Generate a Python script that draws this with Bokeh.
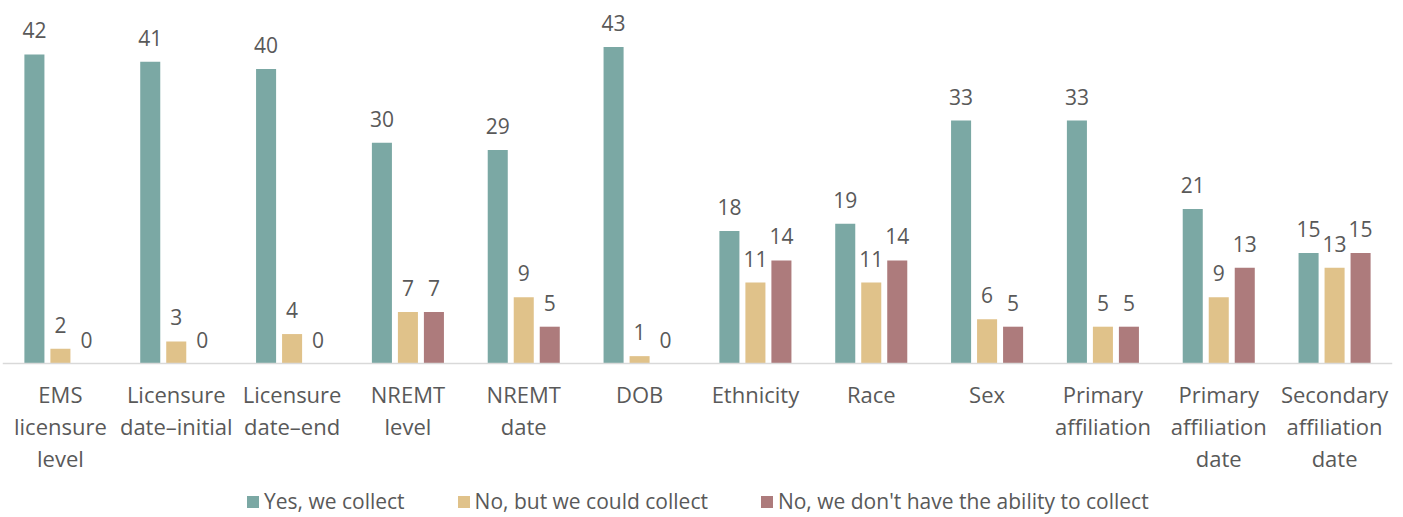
from bokeh.plotting import figure
from bokeh.models import ColumnDataSource, FactorRange, Range1d, Span, Legend, LegendItem
from bokeh.transform import dodge
from bokeh.core.properties import value
from bokeh.embed import file_html
from bokeh.resources import INLINE

categories = ["EMS\nlicensure\nlevel", "Licensure\ndate\u2013initial", "Licensure\ndate\u2013end",
              "NREMT\nlevel", "NREMT\ndate", "DOB", "Ethnicity", "Race", "Sex",
              "Primary\naffiliation", "Primary\naffiliation\ndate", "Secondary\naffiliation\ndate"]
yes_collect = [42, 41, 40, 30, 29, 43, 18, 19, 33, 33, 21, 15]
could_collect = [2, 3, 4, 7, 9, 1, 11, 11, 6, 5, 9, 13]
cannot_collect = [0, 0, 0, 7, 5, 0, 14, 14, 5, 5, 13, 15]
series_names = ["Yes, we collect", "No, but we could collect", "No, we don't have the ability to collect"]
colors = ["#7BA8A4", "#E0C28A", "#AD7B7C"]

src = ColumnDataSource(dict(
    cat=categories,
    yes=yes_collect, could=could_collect, no=cannot_collect,
    yes_t=[str(v) for v in yes_collect],
    could_t=[str(v) for v in could_collect],
    no_t=[str(v) for v in cannot_collect],
))

FONT = "Open Sans"
TXT = "#595959"
PX_PER_UNIT = 7.36
BASE = 363

p = figure(width=1403, height=517, output_backend="svg", toolbar_location=None,
           x_range=FactorRange(factors=categories, range_padding=0),
           y_range=Range1d(-(517 - BASE) / PX_PER_UNIT, BASE / PX_PER_UNIT),
           x_axis_location=None, y_axis_location=None,
           min_border_left=2, min_border_right=11, min_border_top=0, min_border_bottom=0)
p.outline_line_color = None
p.grid.visible = False

bar_w = 0.173
off = 0.2245
renderers = []
for col, o, c in zip(["yes", "could", "no"], [-off, 0, off], colors):
    r = p.vbar(x=dodge("cat", o, range=p.x_range), top=col, width=bar_w, source=src,
               fill_color=c, line_color=None)
    renderers.append(r)
    p.text(x=dodge("cat", o, range=p.x_range), y=col, text=col + "_t", source=src,
           text_align="center", text_baseline="alphabetic", y_offset=-24,
           text_font=value(FONT), text_font_size="21px", text_color=TXT)

p.add_layout(Span(location=0, dimension="width", line_color="#D9D9D9", line_width=1.5))

p.text(x="cat", y=-15.5 / PX_PER_UNIT, text="cat", source=src, text_align="center",
       text_baseline="top", text_font=value(FONT), text_font_size="22px",
       text_color=TXT, text_line_height=1.07)

legend = Legend(items=[LegendItem(label=n, renderers=[r]) for n, r in zip(series_names, renderers)],
                orientation="horizontal", location=(243, 2),
                glyph_width=15, glyph_height=15, label_standoff=4, spacing=51,
                label_text_font=FONT, label_text_font_size="21px", label_text_color=TXT,
                background_fill_alpha=0, border_line_color=None, padding=0, margin=0)
p.add_layout(legend)

open("out.html", "w").write(file_html(p, INLINE))
